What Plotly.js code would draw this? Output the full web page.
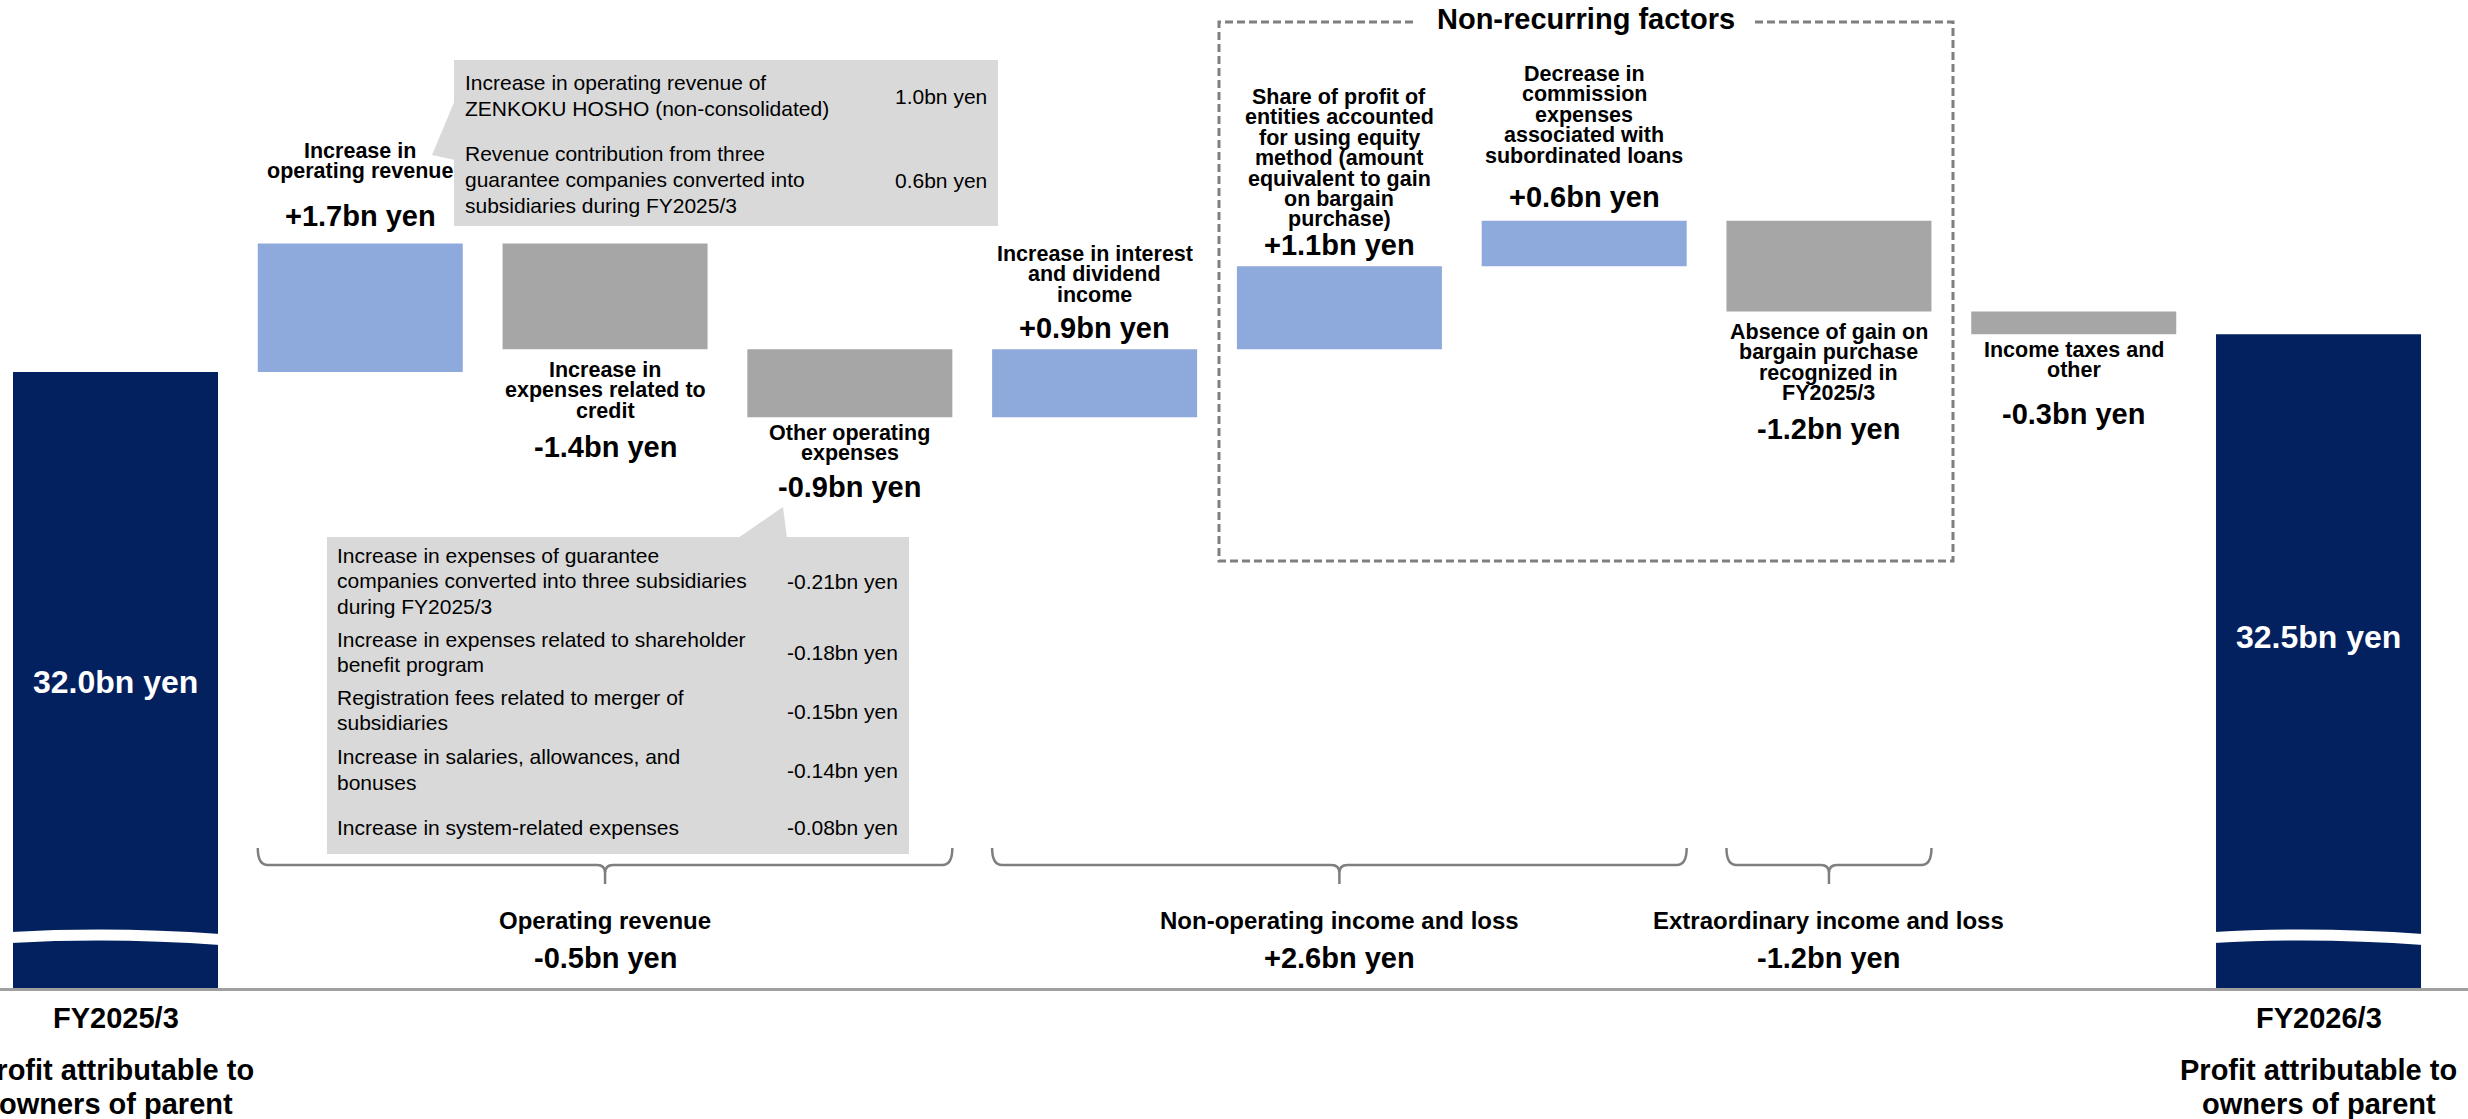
<!DOCTYPE html>
<html>
<head>
<meta charset="utf-8">
<script src="https://cdn.plot.ly/plotly-3.0.1.min.js"></script>
<style>
html, body { margin: 0; padding: 0; background: #ffffff; }
#chart { width: 2468px; height: 1119px; }
</style>
</head>
<body>
<div id="chart"></div>
<script>
// ---------------- DATA ----------------
const categories = [
  'FY2025/3',
  'Increase in operating revenue',
  'Increase in expenses related to credit',
  'Other operating expenses',
  'Increase in interest and dividend income',
  'Share of profit of entities accounted for using equity method',
  'Decrease in commission expenses associated with subordinated loans',
  'Absence of gain on bargain purchase recognized in FY2025/3',
  'Income taxes and other',
  'FY2026/3'
];
const measures = ['absolute', 'relative', 'relative', 'relative', 'relative', 'relative', 'relative', 'relative', 'relative', 'total'];
const values = [32.0, 1.7, -1.4, -0.9, 0.9, 1.1, 0.6, -1.2, -0.3, 32.5];
const valueLabels = ['32.0bn yen', '+1.7bn yen', '-1.4bn yen', '-0.9bn yen', '+0.9bn yen', '+1.1bn yen', '+0.6bn yen', '-1.2bn yen', '-0.3bn yen', '32.5bn yen'];
const barLabels = [
  null,
  ['Increase in', 'operating revenue'],
  ['Increase in', 'expenses related to', 'credit'],
  ['Other operating', 'expenses'],
  ['Increase in interest', 'and dividend', 'income'],
  ['Share of profit of', 'entities accounted', 'for using equity', 'method (amount', 'equivalent to gain', 'on bargain', 'purchase)'],
  ['Decrease in', 'commission', 'expenses', 'associated with', 'subordinated loans'],
  ['Absence of gain on', 'bargain purchase', 'recognized in', 'FY2025/3'],
  ['Income taxes and', 'other'],
  null
];
const periodLabels = ['FY2025/3', 'FY2026/3'];
const periodSubLabel = ['Profit attributable to', 'owners of parent'];
const groupNames = ['Operating revenue', 'Non-operating income and loss', 'Extraordinary income and loss'];
const groupValues = ['-0.5bn yen', '+2.6bn yen', '-1.2bn yen'];
const groupFirst = [1, 4, 7];
const groupLast = [3, 6, 7];
const nonRecurringTitle = 'Non-recurring factors';
const opRevDetailItems = [
  ['Increase in operating revenue of', 'ZENKOKU HOSHO (non-consolidated)'],
  ['Revenue contribution from three', 'guarantee companies converted into', 'subsidiaries during FY2025/3']
];
const opRevDetailValues = ['1.0bn yen', '0.6bn yen'];
const opExpDetailItems = [
  ['Increase in expenses of guarantee', 'companies converted into three subsidiaries', 'during FY2025/3'],
  ['Increase in expenses related to shareholder', 'benefit program'],
  ['Registration fees related to merger of', 'subsidiaries'],
  ['Increase in salaries, allowances, and', 'bonuses'],
  ['Increase in system-related expenses']
];
const opExpDetailValues = ['-0.21bn yen', '-0.18bn yen', '-0.15bn yen', '-0.14bn yen', '-0.08bn yen'];

// ---------------- LAYOUT GEOMETRY ----------------
const W = 2468, H = 1119, PB = 988;
const STEP = 244.78, X0 = 115.5, BARFRAC = 0.8375;
const HALF = BARFRAC * STEP / 2;
const xRange = [-X0 / STEP, (W - X0) / STEP];
const PXPERUNIT = 75.6, REFV = 32.0, REFPX = 372;
const yRange = [REFV - (PB - REFPX) / PXPERUNIT, REFV + REFPX / PXPERUNIT];

const FONT = '"Liberation Sans", Arial, Helvetica, sans-serif';
const NAVY = '#03215F', BLUE = '#8EA9DB', GREY = '#A6A6A6', BOXGREY = '#D9D9D9', LINEGREY = '#7F7F7F';

function px(x) { return x / W; }
function py(y) { return (PB - y) / PB; }
function cxPx(i) { return X0 + i * STEP; }

const annotations = [];
function addText(xval, xref, yPx, text, size, opts) {
  opts = opts || {};
  annotations.push({
    xref: xref, yref: 'paper',
    x: xval, y: py(yPx),
    text: opts.bold ? '<b>' + text + '</b>' : text,
    showarrow: false,
    xanchor: opts.anchor || 'center', yanchor: 'middle',
    align: opts.anchor || 'center',
    font: { family: FONT, size: size, color: opts.color || '#000000' }
  });
}

// Bar labels
const LINE = 20.4;
const labelTop = { 1: 151, 2: 370, 3: 433, 4: 254, 5: 97, 6: 74, 7: 332, 8: 350 };
const valueY = { 0: 682, 1: 216, 2: 447, 3: 487, 4: 328, 5: 245, 6: 197, 7: 429, 8: 414, 9: 637 };
for (let i = 0; i < categories.length; i++) {
  if (barLabels[i]) {
    barLabels[i].forEach((ln, k) => addText(i, 'x', labelTop[i] + k * LINE, ln, 21.5, { bold: true }));
  }
  const isTotal = (i === 0 || i === categories.length - 1);
  addText(i, 'x', valueY[i], valueLabels[i], isTotal ? 32 : 29, { bold: true, color: isTotal ? '#FFFFFF' : '#000000' });
}
// Period labels
[0, categories.length - 1].forEach((i, j) => {
  addText(i, 'x', 1018, periodLabels[j], 29, { bold: true });
  addText(i, 'x', 1070, periodSubLabel[0], 29, { bold: true });
  addText(i, 'x', 1104, periodSubLabel[1], 29, { bold: true });
});

// Shapes
const shapes = [];
function pathStr(cmds) {
  return cmds.map(c => c[0] + ' ' + c.slice(1).map((v, k) => (k % 2 === 0 ? px(v) : py(v)).toFixed(6)).join(',').replace(/,/g, (m, off, s) => m)).join(' ');
}
function P(cmds) {
  // cmds: [['M',x,y],['L',x,y],['Q',x1,y1,x,y],['Z']]
  return cmds.map(c => {
    if (c[0] === 'Z') return 'Z';
    const pts = [];
    for (let k = 1; k < c.length; k += 2) pts.push(px(c[k]).toFixed(6) + ',' + py(c[k + 1]).toFixed(6));
    return c[0] + pts.join(' ');
  }).join(' ');
}

// Axis break on period bars
[0, categories.length - 1].forEach(i => {
  const x1 = cxPx(i) - HALF - 2, x2 = cxPx(i) + HALF + 2;
  shapes.push({
    type: 'path', xref: 'paper', yref: 'paper', layer: 'above',
    path: P([['M', x1, 932], ['C', x1 + 70, 928, x1 + 140, 929, x2, 934], ['L', x2, 945], ['C', x1 + 140, 940, x1 + 70, 939, x1, 943], ['Z']]),
    fillcolor: '#FFFFFF', line: { width: 0 }
  });
});

// Group brackets
for (let g = 0; g < groupNames.length; g++) {
  const x1 = cxPx(groupFirst[g]) - HALF, x2 = cxPx(groupLast[g]) + HALF;
  const cx = (x1 + x2) / 2;
  shapes.push({
    type: 'path', xref: 'paper', yref: 'paper',
    path: P([['M', x1, 848], ['Q', x1, 865, x1 + 10, 865], ['L', cx - 8, 865], ['Q', cx, 865, cx, 873], ['L', cx, 884],
             ['M', cx, 873], ['Q', cx, 865, cx + 8, 865], ['L', x2 - 10, 865], ['Q', x2, 865, x2, 848]]),
    fillcolor: 'rgba(0,0,0,0)', line: { color: LINEGREY, width: 2.5 }
  });
  addText(px(cx), 'paper', 920, groupNames[g], 24, { bold: true });
  addText(px(cx), 'paper', 958, groupValues[g], 29, { bold: true });
}

// Non-recurring dashed box
shapes.push({
  type: 'path', xref: 'paper', yref: 'paper',
  path: P([['M', 1413, 22], ['L', 1219, 22], ['L', 1219, 561], ['L', 1953, 561], ['L', 1953, 22], ['L', 1753, 22]]),
  fillcolor: 'rgba(0,0,0,0)', line: { color: LINEGREY, width: 3, dash: '8px,4px' }
});
addText(px(1586), 'paper', 19, nonRecurringTitle, 29, { bold: true });

// Callout 1 (operating revenue details)
shapes.push({ type: 'rect', xref: 'paper', yref: 'paper', x0: px(454), x1: px(998), y0: py(226), y1: py(60), fillcolor: BOXGREY, line: { width: 0 } });
shapes.push({ type: 'path', xref: 'paper', yref: 'paper', path: P([['M', 455, 100], ['L', 432, 155], ['L', 455, 160], ['Z']]), fillcolor: BOXGREY, line: { width: 0 } });
const c1Top = [83, 154], c1Val = [96, 180], C1L = 25.7;
opRevDetailItems.forEach((lines, k) => {
  lines.forEach((ln, j) => addText(px(463), 'paper', c1Top[k] + j * C1L, ln, 21, { anchor: 'left' }));
  addText(px(989), 'paper', c1Val[k], opRevDetailValues[k], 21, { anchor: 'right' });
});

// Callout 2 (other operating expense details)
shapes.push({ type: 'rect', xref: 'paper', yref: 'paper', x0: px(327), x1: px(909), y0: py(854), y1: py(537), fillcolor: BOXGREY, line: { width: 0 } });
shapes.push({ type: 'path', xref: 'paper', yref: 'paper', path: P([['M', 738, 538], ['L', 783, 507], ['L', 787, 538], ['Z']]), fillcolor: BOXGREY, line: { width: 0 } });
const c2Top = [555, 639, 697, 757, 827], c2Val = [581, 652, 711, 770, 827], C2L = 25.8;
opExpDetailItems.forEach((lines, k) => {
  lines.forEach((ln, j) => addText(px(335), 'paper', c2Top[k] + j * C2L, ln, 21, { anchor: 'left' }));
  addText(px(785), 'paper', c2Val[k], opExpDetailValues[k], 21, { anchor: 'left' });
});

// ---------------- TRACE ----------------
const trace = {
  type: 'waterfall',
  x: categories,
  y: values,
  measure: measures,
  increasing: { marker: { color: BLUE, line: { width: 0 } } },
  decreasing: { marker: { color: GREY, line: { width: 0 } } },
  totals: { marker: { color: NAVY, line: { width: 0 } } },
  connector: { visible: false },
  textinfo: 'none',
  hoverinfo: 'none',
  cliponaxis: true
};

const layout = {
  width: W, height: H,
  margin: { l: 0, r: 0, t: 0, b: H - PB, pad: 0 },
  paper_bgcolor: '#FFFFFF', plot_bgcolor: '#FFFFFF',
  font: { family: FONT, color: '#000000' },
  showlegend: false,
  waterfallgap: 1 - BARFRAC,
  xaxis: {
    type: 'category', range: xRange, fixedrange: true,
    showticklabels: false, ticks: '', showgrid: false, zeroline: false,
    showline: true, linecolor: '#A0A0A0', linewidth: 3
  },
  yaxis: {
    range: yRange, fixedrange: true, visible: false,
    showgrid: false, zeroline: false
  },
  annotations: annotations,
  shapes: shapes
};

Plotly.newPlot('chart', [trace], layout, { staticPlot: true, displayModeBar: false });
</script>
</body>
</html>
